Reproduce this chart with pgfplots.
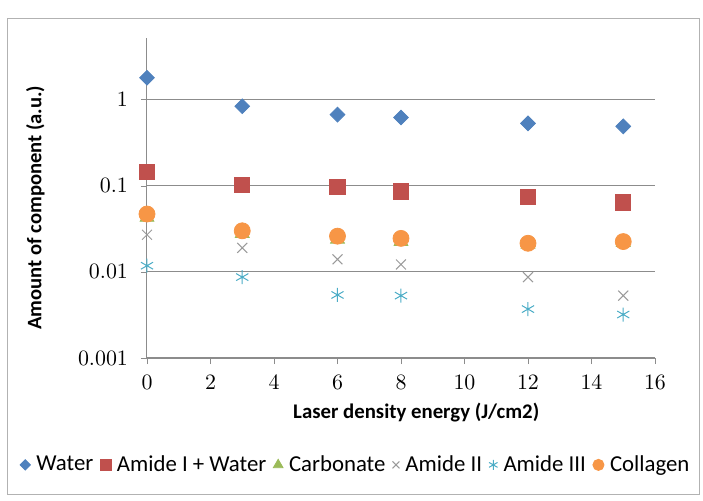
\documentclass[border=0pt]{standalone}
\usepackage{pgfplots}
\pgfplotsset{compat=1.18}
\usepackage[no-math]{fontspec}
\setmainfont{Carlito}
\definecolor{cWater}{HTML}{4F81BD}
\definecolor{cAmideI}{HTML}{C0504D}
\definecolor{cCarb}{HTML}{9BBB59}
\definecolor{cAmideII}{HTML}{9A9A9A}
\definecolor{cAmideIII}{HTML}{4BACC6}
\definecolor{cColl}{HTML}{F79646}
\definecolor{gridc}{HTML}{8C8C8C}
\begin{document}
\begin{tikzpicture}
\begin{axis}[
  scale only axis, width=254pt, height=160pt,
  ymode=log, xmin=0, xmax=16, ymin=0.001, ymax=5.2,
  xtick={0,2,...,16},
  ytick={0.001,0.01,0.1,1},
  yticklabels={$0.001$,$0.01$,$0.1$,$1$},
  yminorticks=false,
  axis lines*=left,
  axis line style={gridc, line width=0.5pt},
  tick align=outside, major tick length=3pt,
  tick style={gridc},
  ymajorgrids, major grid style={gridc, line width=0.6pt},
  tick label style={font=\fontsize{11}{13}\selectfont},
  x tick label style={yshift=-2pt},
  y tick label style={xshift=-3pt},
  xlabel={\bfseries Laser density energy (J/cm2)},
  ylabel={\bfseries Amount of component (a.u.)},
  every axis x label/.style={at={(axis description cs:0.53,-0.169)}, anchor=center, font=\fontsize{10.4}{12}\selectfont},
  every axis y label/.style={at={(axis description cs:-0.22,0.47)}, anchor=center, rotate=90, font=\fontsize{10.3}{12}\selectfont},
  legend columns=6,
  legend style={at={(axis description cs:0.413,-0.334)}, anchor=center, draw=none, fill=none,
    font=\fontsize{11.4}{13}\selectfont, column sep=0pt,
    /tikz/every odd column/.append style={column sep=1pt},
    /tikz/every even column/.append style={column sep=1.5pt}},
  legend image code/.code={\draw[#1, every mark/.append style={scale=0.7}] plot coordinates {(0.2cm,0cm)};},
  clip=false,
]
\addplot[only marks, mark=square*, mark size=2.6pt, mark options={rotate=45, fill=cWater, draw=cWater}] coordinates {(0,1.8) (3,0.84) (6,0.67) (8,0.62) (12,0.53) (15,0.49)};
\addlegendentry{Water}
\addplot[only marks, mark=square*, mark size=3.8pt, mark options={fill=cAmideI, draw=cAmideI}] coordinates {(0,0.145) (3,0.102) (6,0.098) (8,0.086) (12,0.075) (15,0.064)};
\addlegendentry{Amide I + Water}
\addplot[only marks, mark=triangle*, mark size=4pt, mark options={fill=cCarb, draw=cCarb}] coordinates {(0,0.043) (3,0.028) (6,0.024) (8,0.0225) (12,0.021) (15,0.022)};
\addlegendentry{Carbonate}
\addplot[only marks, mark=x, mark size=3.5pt, mark options={draw=cAmideII, line width=0.5pt}] coordinates {(0,0.027) (3,0.019) (6,0.014) (8,0.0122) (12,0.0087) (15,0.0053)};
\addlegendentry{Amide II}
\addplot[only marks, mark=asterisk, mark size=3.5pt, mark options={draw=cAmideIII, line width=0.5pt}] coordinates {(0,0.0118) (3,0.0087) (6,0.0054) (8,0.0053) (12,0.0037) (15,0.0032)};
\addlegendentry{Amide III}
\addplot[only marks, mark=*, mark size=4pt, mark options={fill=cColl, draw=cColl}] coordinates {(0,0.047) (3,0.030) (6,0.026) (8,0.0245) (12,0.0215) (15,0.0225)};
\addlegendentry{Collagen}
\end{axis}
\draw[gray!60, line width=0.5pt] (-69.5pt,-68pt) rectangle (276.5pt,170pt);
\pgfresetboundingbox
\useasboundingbox (-73.5pt,-71pt) rectangle (278pt,179pt);
\end{tikzpicture}
\end{document}
